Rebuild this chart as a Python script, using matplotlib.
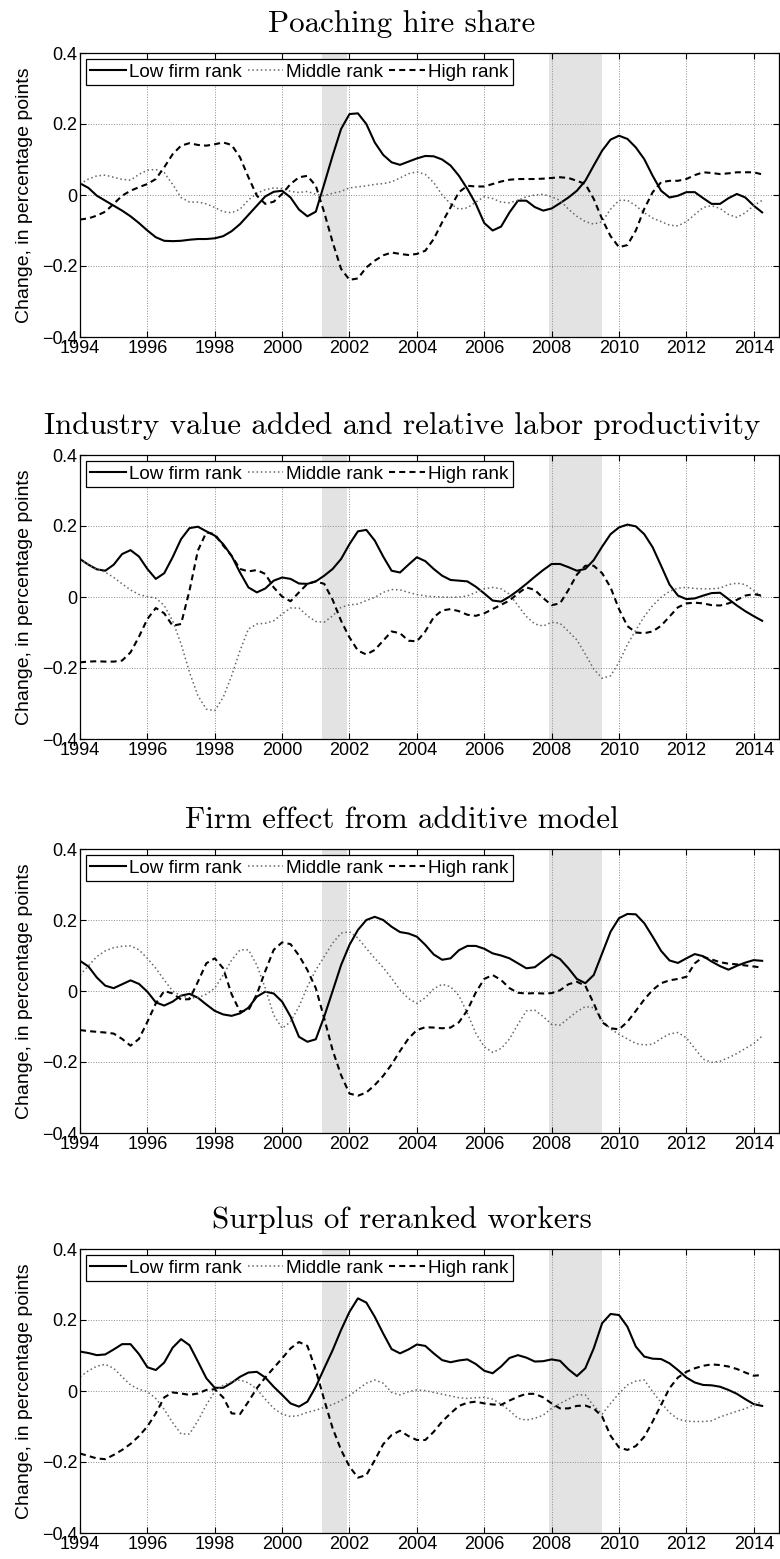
import numpy as np
import matplotlib
matplotlib.use("Agg")
import matplotlib.pyplot as plt

# quarterly observations, 1994Q1 - 2014Q2
quarters = 1994 + np.arange(82) / 4.0

series_labels = ["Low firm rank", "Middle rank", "High rank"]
recessions = [(2001.17, 2001.92), (2007.92, 2009.5)]
year_ticks = list(range(1994, 2015, 2))
y_ticks = [-0.4, -0.2, 0, 0.2, 0.4]
y_ticklabels = ["\u22120.4", "\u22120.2", "0", "0.2", "0.4"]

titles = ["Poaching hire share",
          "Industry value added and relative labor productivity",
          "Firm effect from additive model",
          "Surplus of reranked workers"]

# --- poaching hire share ---
poach_low = [0.033, 0.02, -0.002, -0.016, -0.03, -0.044, -0.06, -0.079,
             -0.1, -0.119, -0.129, -0.13, -0.129, -0.126, -0.124, -0.124,
             -0.122, -0.116, -0.102, -0.082, -0.056, -0.03, -0.004, 0.009,
             0.012, -0.007, -0.041, -0.06, -0.047, 0.031, 0.111, 0.186,
             0.228, 0.23, 0.2, 0.148, 0.113, 0.092, 0.085, 0.094,
             0.103, 0.11, 0.109, 0.1, 0.083, 0.054, 0.017, -0.025,
             -0.079, -0.1, -0.089, -0.049, -0.016, -0.016, -0.034, -0.044,
             -0.038, -0.023, -0.007, 0.012, 0.04, 0.083, 0.125, 0.156,
             0.167, 0.158, 0.134, 0.101, 0.054, 0.012, -0.007, -0.002,
             0.008, 0.008, -0.009, -0.025, -0.025, -0.009, 0.003, -0.007,
             -0.03, -0.049]
poach_mid = [0.031, 0.045, 0.054, 0.056, 0.05, 0.044, 0.042, 0.058,
             0.07, 0.072, 0.063, 0.03, -0.007, -0.02, -0.02, -0.025,
             -0.035, -0.047, -0.05, -0.04, -0.014, 0.005, 0.015, 0.02,
             0.018, 0.01, 0.007, 0.01, 0.002, -0.002, 0.005, 0.01,
             0.02, 0.023, 0.026, 0.03, 0.032, 0.037, 0.048, 0.06,
             0.065, 0.058, 0.035, 0.0, -0.025, -0.04, -0.036, -0.02,
             -0.005, -0.01, -0.02, -0.022, -0.015, -0.005, 0.0, 0.002,
             -0.005, -0.015, -0.04, -0.06, -0.075, -0.082, -0.075, -0.04,
             -0.015, -0.015, -0.03, -0.05, -0.065, -0.075, -0.085, -0.087,
             -0.075, -0.055, -0.035, -0.03, -0.038, -0.055, -0.063, -0.05,
             -0.03, -0.015]
poach_high = [-0.069, -0.066, -0.058, -0.047, -0.025, -0.002, 0.012, 0.022,
              0.031, 0.045, 0.078, 0.115, 0.139, 0.146, 0.141, 0.139,
              0.143, 0.148, 0.141, 0.106, 0.05, -0.002, -0.025, -0.019,
              0.003, 0.031, 0.05, 0.054, 0.026, -0.049, -0.133, -0.208,
              -0.239, -0.235, -0.204, -0.185, -0.17, -0.162, -0.166, -0.169,
              -0.166, -0.157, -0.124, -0.077, -0.035, 0.008, 0.026, 0.024,
              0.024, 0.031, 0.038, 0.043, 0.045, 0.045, 0.045, 0.046,
              0.048, 0.05, 0.048, 0.04, 0.031, -0.011, -0.068, -0.116,
              -0.147, -0.141, -0.1, -0.039, 0.008, 0.036, 0.04, 0.04,
              0.045, 0.056, 0.064, 0.062, 0.059, 0.061, 0.064, 0.064,
              0.064, 0.058]

# --- industry value added and relative labor productivity ---
prod_low = [0.107, 0.091, 0.078, 0.074, 0.091, 0.121, 0.132, 0.114,
            0.079, 0.051, 0.067, 0.112, 0.163, 0.194, 0.198, 0.185,
            0.173, 0.149, 0.116, 0.069, 0.027, 0.013, 0.024, 0.046,
            0.055, 0.051, 0.038, 0.037, 0.044, 0.06, 0.079, 0.107,
            0.149, 0.185, 0.189, 0.159, 0.114, 0.074, 0.069, 0.091,
            0.112, 0.101, 0.079, 0.06, 0.048, 0.046, 0.044, 0.029,
            0.01, -0.01, -0.013, 0.001, 0.018, 0.037, 0.057, 0.076,
            0.093, 0.093, 0.084, 0.074, 0.079, 0.104, 0.142, 0.177,
            0.196, 0.204, 0.199, 0.177, 0.14, 0.088, 0.035, 0.004,
            -0.006, -0.004, 0.004, 0.011, 0.012, -0.006, -0.024, -0.04,
            -0.054, -0.067]
prod_mid = [0.107, 0.091, 0.079, 0.07, 0.055, 0.037, 0.02, 0.007,
            0.001, -0.003, -0.024, -0.067, -0.132, -0.212, -0.278, -0.316,
            -0.32, -0.283, -0.222, -0.151, -0.09, -0.076, -0.074, -0.067,
            -0.048, -0.031, -0.031, -0.053, -0.069, -0.071, -0.053, -0.029,
            -0.022, -0.02, -0.01, -0.001, 0.013, 0.021, 0.02, 0.013,
            0.007, 0.003, 0.001, 0.0, -0.001, 0.0, 0.003, 0.013,
            0.023, 0.027, 0.023, 0.008, -0.024, -0.055, -0.076, -0.082,
            -0.071, -0.074, -0.097, -0.121, -0.161, -0.203, -0.229, -0.222,
            -0.184, -0.134, -0.093, -0.055, -0.024, -0.001, 0.016, 0.025,
            0.027, 0.024, 0.023, 0.023, 0.025, 0.035, 0.039, 0.035,
            0.018, -0.001]
prod_high = [-0.184, -0.182, -0.181, -0.182, -0.182, -0.179, -0.156, -0.112,
             -0.062, -0.031, -0.046, -0.081, -0.076, 0.018, 0.131, 0.182,
             0.177, 0.145, 0.116, 0.079, 0.072, 0.076, 0.065, 0.027,
             0.001, -0.012, 0.013, 0.037, 0.044, 0.037, -0.008, -0.067,
             -0.114, -0.151, -0.162, -0.149, -0.123, -0.097, -0.102, -0.123,
             -0.125, -0.097, -0.057, -0.038, -0.034, -0.04, -0.05, -0.053,
             -0.046, -0.034, -0.022, -0.01, 0.01, 0.027, 0.02, -0.003,
             -0.023, -0.018, 0.02, 0.063, 0.088, 0.088, 0.067, 0.027,
             -0.034, -0.082, -0.1, -0.102, -0.097, -0.081, -0.055, -0.029,
             -0.018, -0.016, -0.018, -0.023, -0.024, -0.018, -0.008, 0.004,
             0.008, 0.004]

# --- firm effect from additive model ---
firm_low = [0.085, 0.069, 0.038, 0.015, 0.008, 0.019, 0.03, 0.02,
            -0.002, -0.032, -0.041, -0.03, -0.013, -0.008, -0.019, -0.038,
            -0.056, -0.066, -0.07, -0.063, -0.047, -0.016, -0.002, -0.007,
            -0.03, -0.072, -0.129, -0.143, -0.136, -0.072, 0.0, 0.073,
            0.13, 0.172, 0.2, 0.209, 0.2, 0.181, 0.166, 0.162,
            0.153, 0.13, 0.103, 0.088, 0.092, 0.115, 0.127, 0.127,
            0.119, 0.106, 0.1, 0.092, 0.078, 0.064, 0.067, 0.085,
            0.103, 0.09, 0.064, 0.034, 0.022, 0.045, 0.106, 0.167,
            0.205, 0.217, 0.216, 0.191, 0.153, 0.113, 0.086, 0.079,
            0.092, 0.104, 0.098, 0.083, 0.07, 0.06, 0.071, 0.08,
            0.087, 0.085]
firm_mid = [0.045, 0.071, 0.097, 0.113, 0.122, 0.126, 0.127, 0.116,
            0.092, 0.064, 0.031, 0.0, -0.014, -0.019, -0.019, -0.009,
            0.008, 0.045, 0.087, 0.116, 0.116, 0.073, 0.008, -0.068,
            -0.105, -0.087, -0.044, 0.012, 0.059, 0.097, 0.135, 0.163,
            0.167, 0.149, 0.12, 0.092, 0.066, 0.036, 0.003, -0.021,
            -0.035, -0.019, 0.006, 0.019, 0.012, -0.013, -0.063, -0.119,
            -0.157, -0.173, -0.162, -0.135, -0.094, -0.056, -0.054, -0.072,
            -0.094, -0.096, -0.077, -0.058, -0.044, -0.047, -0.082, -0.107,
            -0.122, -0.135, -0.148, -0.152, -0.15, -0.134, -0.121, -0.117,
            -0.132, -0.162, -0.192, -0.201, -0.198, -0.188, -0.176, -0.162,
            -0.148, -0.127]
firm_high = [-0.11, -0.113, -0.115, -0.117, -0.12, -0.135, -0.154, -0.135,
             -0.087, -0.035, 0.0, -0.007, -0.024, -0.023, 0.026, 0.078,
             0.092, 0.064, -0.009, -0.058, -0.054, -0.009, 0.056, 0.116,
             0.137, 0.132, 0.1, 0.059, 0.008, -0.077, -0.167, -0.237,
             -0.289, -0.295, -0.286, -0.265, -0.239, -0.207, -0.169, -0.134,
             -0.11, -0.102, -0.103, -0.105, -0.103, -0.088, -0.054, -0.004,
             0.034, 0.045, 0.031, 0.008, -0.005, -0.007, -0.006, -0.007,
             -0.006, 0.002, 0.019, 0.026, 0.015, -0.035, -0.088, -0.105,
             -0.108, -0.087, -0.056, -0.024, 0.003, 0.022, 0.03, 0.034,
             0.04, 0.078, 0.096, 0.089, 0.081, 0.077, 0.075, 0.072,
             0.069, 0.066]

# --- surplus of reranked workers ---
surp_low = [0.111, 0.107, 0.101, 0.103, 0.117, 0.132, 0.132, 0.104,
            0.067, 0.059, 0.08, 0.122, 0.146, 0.129, 0.083, 0.036,
            0.009, 0.009, 0.023, 0.04, 0.052, 0.054, 0.038, 0.012,
            -0.011, -0.035, -0.044, -0.03, 0.012, 0.064, 0.115, 0.172,
            0.223, 0.261, 0.249, 0.209, 0.162, 0.118, 0.106, 0.117,
            0.131, 0.127, 0.106, 0.087, 0.081, 0.086, 0.089, 0.076,
            0.057, 0.05, 0.069, 0.093, 0.101, 0.094, 0.083, 0.084,
            0.089, 0.085, 0.061, 0.042, 0.064, 0.12, 0.191, 0.217,
            0.214, 0.181, 0.125, 0.097, 0.091, 0.09, 0.078, 0.059,
            0.038, 0.024, 0.017, 0.016, 0.012, 0.003, -0.008, -0.023,
            -0.037, -0.042]
surp_mid = [0.04, 0.057, 0.07, 0.075, 0.064, 0.04, 0.017, 0.005,
            -0.002, -0.021, -0.052, -0.089, -0.121, -0.121, -0.084, -0.039,
            -0.002, 0.016, 0.026, 0.031, 0.023, 0.005, -0.023, -0.049,
            -0.065, -0.072, -0.069, -0.06, -0.054, -0.046, -0.038, -0.027,
            -0.013, 0.005, 0.022, 0.031, 0.022, -0.004, -0.011, -0.002,
            0.003, 0.001, -0.004, -0.009, -0.014, -0.019, -0.021, -0.019,
            -0.018, -0.023, -0.037, -0.055, -0.077, -0.082, -0.077, -0.068,
            -0.049, -0.035, -0.023, -0.011, -0.011, -0.042, -0.065, -0.035,
            -0.007, 0.017, 0.028, 0.031, -0.002, -0.033, -0.061, -0.079,
            -0.085, -0.086, -0.086, -0.084, -0.073, -0.065, -0.057, -0.05,
            -0.039, -0.03]
surp_high = [-0.176, -0.183, -0.19, -0.192, -0.18, -0.166, -0.149, -0.127,
             -0.1, -0.063, -0.018, -0.004, -0.007, -0.011, -0.007, 0.003,
             0.005, -0.018, -0.063, -0.065, -0.03, 0.008, 0.038, 0.065,
             0.092, 0.12, 0.138, 0.127, 0.059, -0.025, -0.105, -0.166,
             -0.213, -0.244, -0.237, -0.195, -0.15, -0.124, -0.112, -0.127,
             -0.138, -0.138, -0.115, -0.086, -0.063, -0.042, -0.033, -0.03,
             -0.035, -0.038, -0.039, -0.027, -0.016, -0.008, -0.008, -0.018,
             -0.035, -0.049, -0.049, -0.042, -0.041, -0.049, -0.072, -0.126,
             -0.159, -0.166, -0.155, -0.129, -0.086, -0.039, 0.008, 0.038,
             0.054, 0.064, 0.071, 0.075, 0.073, 0.069, 0.062, 0.052,
             0.043, 0.045]

panels = [(poach_low, poach_mid, poach_high),
          (prod_low, prod_mid, prod_high),
          (firm_low, firm_mid, firm_high),
          (surp_low, surp_mid, surp_high)]

line_styles = [dict(color="k", lw=1.5, ls="-"),
               dict(color="0.4", lw=1.1, ls=(0, (1.0, 1.8))),
               dict(color="k", lw=1.5, ls=(0, (2.9, 2.0)))]

sans = "Liberation Sans"
W, H = 780.0, 1559.0
panel_tops = [53, 455, 849, 1249]
ax_left, ax_w, ax_h = 80, 699, 284

fig = plt.figure(figsize=(W / 100, H / 100), dpi=100)

for top, title, data in zip(panel_tops, titles, panels):
    ax = fig.add_axes([ax_left / W, 1 - (top + ax_h) / H, ax_w / W, ax_h / H])

    for start, end in recessions:
        ax.axvspan(start, end, color="#e3e3e3", lw=0, zorder=0)

    for values, label, style in zip(data, series_labels, line_styles):
        assert len(values) == len(quarters)
        ax.plot(quarters, values, label=label, **style)

    ax.set_xlim(1994, 2014.75)
    ax.set_ylim(-0.4, 0.4)
    ax.set_xticks(year_ticks)
    ax.set_xticklabels([str(y) for y in year_ticks], fontfamily=sans, fontsize=13)
    ax.set_yticks(y_ticks)
    ax.set_yticklabels(y_ticklabels, fontfamily=sans, fontsize=13)
    ax.tick_params(direction="in", length=4, width=0.8, top=True, right=True, pad=2)

    ax.set_axisbelow(True)
    ax.grid(True, color="0.55", ls=":", lw=0.7)
    for sp in ax.spines.values():
        sp.set_linewidth(0.9)

    ax.set_ylabel("Change, in percentage points", fontfamily=sans, fontsize=14)
    ax.yaxis.set_label_coords(-0.067, 0.5)

    ax.set_title(title, fontfamily="cmr10", fontsize=22.3, pad=15, x=0.4607)

    leg = ax.legend(loc="upper left", ncol=3, prop={"family": sans, "size": 13.6},
                    handlelength=1.9, handletextpad=0.15, columnspacing=0.3,
                    borderpad=0.25, borderaxespad=0.3, fancybox=False,
                    framealpha=1, edgecolor="k")
    leg.get_frame().set_linewidth(0.9)

fig.savefig("out.png", dpi=100)
